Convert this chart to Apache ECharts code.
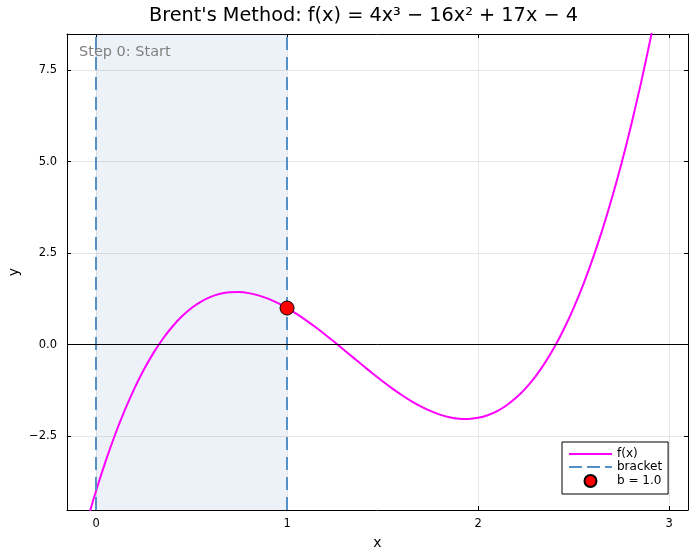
<!DOCTYPE html>
<html><head><meta charset="utf-8">
<script src="https://cdn.jsdelivr.net/npm/echarts@6/dist/echarts.min.js"></script>
<style>html,body{margin:0;padding:0;background:#fff}#c{width:700px;height:560px}</style>
</head><body><div id="c"></div>
<script>
const xs = [-0.1,-0.05,0,0.05,0.1,0.15,0.2,0.25,0.3,0.35,0.4,0.45,0.5,0.55,0.6,0.65,0.7,0.75,0.8,0.85,0.9,0.95,1.0,1.05,1.1,1.15,1.2,1.25,1.3,1.35,1.4,1.45,1.5,1.55,1.6,1.65,1.7,1.75,1.8,1.85,1.9,1.95,2.0,2.05,2.1,2.15,2.2,2.25,2.3,2.35,2.4,2.45,2.5,2.55,2.6,2.65,2.7,2.75,2.8,2.85,2.9,2.95,3.0];
const fx = [-5.864,-4.8905,-4,-3.1895,-2.456,-1.7965,-1.208,-0.6875,-0.232,0.1615,0.496,0.7745,1.0,1.1755,1.304,1.3885,1.432,1.4375,1.408,1.3465,1.256,1.1395,1.0,0.8405,0.664,0.4735,0.272,0.0625,-0.152,-0.3685,-0.584,-0.7955,-1.0,-1.1945,-1.376,-1.5415,-1.688,-1.8125,-1.912,-1.9835,-2.024,-2.0305,-2.0,-1.9295,-1.816,-1.6565,-1.448,-1.1875,-0.872,-0.4985,-0.064,0.4345,1.0,1.6355,2.344,3.1285,3.992,4.9375,5.968,7.0865,8.296,9.5995,11.0];
const bracket = [0, 1];
const bPoint = [1, 1.0];
const xTicks = [0, 1, 2, 3];
const yTicks = [-2.5, 0, 2.5, 5, 7.5];
const xRange = [-0.152, 3.099];
const yRange = [-4.52, 8.49];

const FONT = 'DejaVu Sans';
const chart = echarts.init(document.getElementById('c'));

const frameAxis = (pos, range, ticks) => ({
  type: 'value', position: pos, min: range[0], max: range[1],
  axisLine: {show: true, onZero: false, lineStyle: {color: '#000', width: 1}},
  axisTick: {show: true, inside: true, length: 4, customValues: ticks, lineStyle: {color: '#000'}},
  axisLabel: {show: false, customValues: ticks}, splitLine: {show: false}
});

chart.setOption({
  animation: false,
  title: {
    text: "Brent's Method: f(x) = 4x³ − 16x² + 17x − 4",
    left: 144, top: 1,
    textStyle: {fontFamily: FONT, fontSize: 19.3, fontWeight: 'normal', color: '#000'}
  },
  grid: {left: 67, right: 12, top: 34, bottom: 50, outerBoundsMode: 'none', containLabel: false},
  legend: {
    orient: 'vertical', left: 562, top: 442,
    padding: [6, 6, 6, 6], itemWidth: 43, itemHeight: 12, itemGap: 1,
    borderColor: '#000', borderWidth: 1, backgroundColor: '#fff',
    textStyle: {fontFamily: FONT, fontSize: 12, color: '#000'},
    data: [
      {name: 'f(x)', itemStyle: {opacity: 0}},
      {name: 'bracket', itemStyle: {opacity: 0}},
      {name: 'b = 1.0'}
    ]
  },
  xAxis: [{
    type: 'value', min: xRange[0], max: xRange[1],
    name: 'x', nameLocation: 'middle', nameGap: 26, nameMoveOverlap: false,
    nameTextStyle: {fontFamily: FONT, fontSize: 14, color: '#000'},
    axisLine: {show: true, onZero: false, lineStyle: {color: '#000', width: 1}},
    axisTick: {show: true, inside: true, length: 4, customValues: xTicks, lineStyle: {color: '#000'}},
    axisLabel: {margin: 8, fontFamily: FONT, fontSize: 11.5, color: '#000', customValues: xTicks,
      formatter: v => String(Math.round(v))},
    splitLine: {show: true, lineStyle: {color: '#e6e6e6', width: 1}}
  }, frameAxis('top', xRange, xTicks)],
  yAxis: [{
    type: 'value', min: yRange[0], max: yRange[1],
    name: 'y', nameLocation: 'middle', nameGap: 45.5, nameMoveOverlap: false,
    nameTextStyle: {fontFamily: FONT, fontSize: 14, color: '#000'},
    axisLine: {show: true, onZero: false, lineStyle: {color: '#000', width: 1}},
    axisTick: {show: true, inside: true, length: 4, customValues: yTicks, lineStyle: {color: '#000'}},
    axisLabel: {margin: 10, fontFamily: FONT, fontSize: 11.5, color: '#000', customValues: yTicks,
      formatter: v => v.toFixed(1).replace('-', '−')},
    splitLine: {show: true, lineStyle: {color: '#e6e6e6', width: 1}}
  }, frameAxis('right', yRange, yTicks)],
  graphic: [{
    type: 'text', left: 79, top: 45, z: 100,
    style: {text: 'Step 0: Start', fontFamily: FONT, fontSize: 14.5, fill: '#808080'}
  }],
  series: [{
    name: 'bracket', type: 'line', data: [], symbol: 'none',
    lineStyle: {color: '#5590c6', width: 2, type: [13, 5]},
    itemStyle: {color: '#5590c6'},
    markArea: {silent: true, itemStyle: {color: 'rgba(70,130,180,0.1)'},
      data: [[{xAxis: bracket[0]}, {xAxis: bracket[1]}]]},
    markLine: {silent: true, symbol: 'none', label: {show: false},
      lineStyle: {color: '#5590c6', width: 2, type: [13, 7], opacity: 1},
      data: bracket.map(v => ({xAxis: v}))},
    z: 3
  }, {
    name: 'f(x)', type: 'line', smooth: 0.3, symbol: 'none',
    data: xs.map((x, i) => [x, fx[i]]),
    lineStyle: {color: '#ff00ff', width: 2}, itemStyle: {color: '#ff00ff'},
    markLine: {silent: true, symbol: 'none', label: {show: false},
      lineStyle: {color: '#000', width: 1, type: 'solid'},
      data: [{yAxis: 0}]},
    z: 4
  }, {
    name: 'b = 1.0', type: 'scatter', data: [bPoint], symbolSize: 14,
    itemStyle: {color: '#ff0000', borderColor: '#000', borderWidth: 1, opacity: 1},
    z: 20
  }]
});
</script></body></html>
